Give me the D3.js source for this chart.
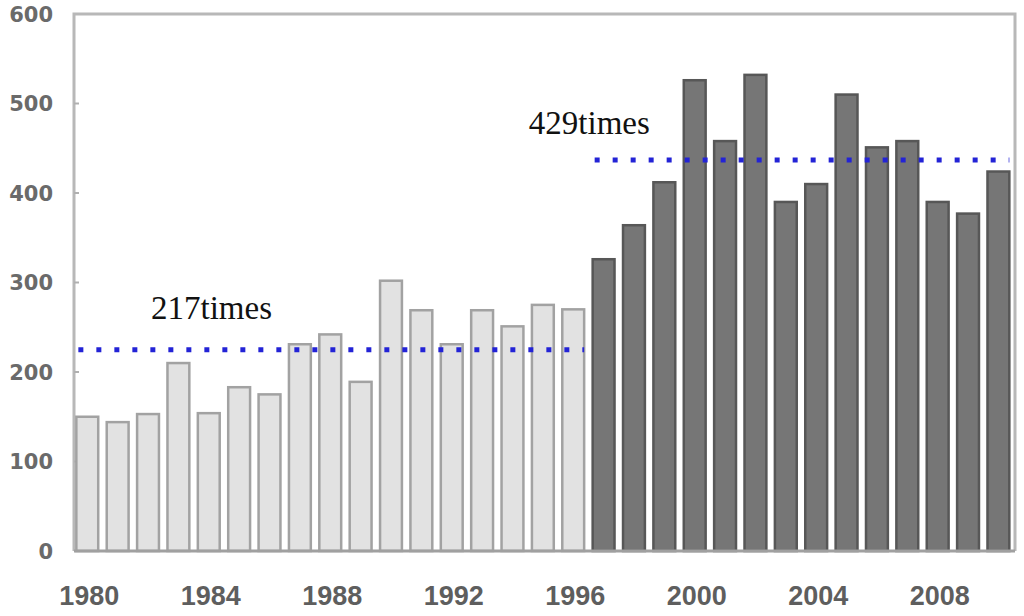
<!DOCTYPE html>
<html>
<head>
<meta charset="utf-8">
<script src="https://cdn.jsdelivr.net/npm/d3@7"></script>
<style>
html,body{margin:0;padding:0;background:#fff;}
svg{display:block;}
</style>
</head>
<body>
<svg id="chart" width="1024" height="616"></svg>
<script>
// ---- data ----
const years = d3.range(1980, 2011).map(String);
const periodA = years.slice(0, 17);   // 1980-1996
const periodB = years.slice(17);      // 1997-2010
const valuesA = [150,144,153,210,154,183,175,231,242,189,302,269,231,269,251,275,270];
const valuesB = [326,364,412,526,458,532,390,410,510,451,458,390,377,424];
const avgLines = [
  {label: "217times", value: 225, from: "1980", to: "1996"},
  {label: "429times", value: 437, from: "1997", to: "2010"}
];
const yTicks = [0,100,200,300,400,500,600];
const xTickLabels = ["1980","1984","1988","1992","1996","2000","2004","2008"];

// ---- layout ----
const svg = d3.select("#chart");
const frame = {left: 74, right: 1015, top: 14, bottom: 551};

const x = d3.scaleBand().domain(years).range([72.1, 1013.6])
  .paddingInner(0.28).paddingOuter(0.14);
const y = d3.scaleLinear().domain([0, 600]).range([frame.bottom, frame.top]);

// frame
svg.append("path")
  .attr("d", `M${frame.left},${frame.bottom}V${frame.top}H${frame.right}V${frame.bottom}`)
  .attr("fill", "none").attr("stroke", "#b8b8b8").attr("stroke-width", 3);

// inner ticks on y axis
svg.append("g").selectAll("line").data(yTicks.filter(d => d > 0 && d < 600)).join("line")
  .attr("x1", frame.left).attr("x2", frame.left + 5)
  .attr("y1", d => y(d)).attr("y2", d => y(d))
  .attr("stroke", "#b0b0b0").attr("stroke-width", 2);

// y labels
svg.append("g").selectAll("text").data(yTicks).join("text")
  .attr("x", 53).attr("y", d => y(d)).attr("dy", "0.36em")
  .attr("text-anchor", "end")
  .attr("font-family", "DejaVu Sans").attr("font-weight", "bold")
  .attr("font-size", 21).attr("fill", "#6a6a6a")
  .text(d => d);

// bars
const dataA = periodA.map((yr, i) => ({year: yr, value: valuesA[i]}));
const dataB = periodB.map((yr, i) => ({year: yr, value: valuesB[i]}));

svg.append("g").selectAll("rect").data(dataA).join("rect")
  .attr("x", d => x(d.year)).attr("width", x.bandwidth())
  .attr("y", d => y(d.value)).attr("height", d => y(0) - y(d.value))
  .attr("fill", "#e2e2e2").attr("stroke", "#a2a2a2").attr("stroke-width", 2.5);

svg.append("g").selectAll("rect").data(dataB).join("rect")
  .attr("x", d => x(d.year)).attr("width", x.bandwidth())
  .attr("y", d => y(d.value)).attr("height", d => y(0) - y(d.value))
  .attr("fill", "#767676").attr("stroke", "#575757").attr("stroke-width", 2.5);

// baseline
svg.append("line")
  .attr("x1", frame.left).attr("x2", frame.right)
  .attr("y1", y(0)).attr("y2", y(0))
  .attr("stroke", "#a0a0a0").attr("stroke-width", 3);

// x labels
svg.append("g").selectAll("text").data(xTickLabels).join("text")
  .attr("x", d => x(d) + x.bandwidth() / 2 + 2).attr("y", 605)
  .attr("text-anchor", "middle")
  .attr("font-family", "Liberation Sans").attr("font-weight", "bold")
  .attr("font-size", 27).attr("fill", "#5e5e5e")
  .text(d => d);

// average dotted lines
svg.append("g").selectAll("line").data(avgLines).join("line")
  .attr("x1", d => x(d.from) + 2).attr("x2", d => x(d.to) + x.bandwidth())
  .attr("y1", d => y(d.value)).attr("y2", d => y(d.value))
  .attr("stroke", "#2323d6").attr("stroke-width", 5)
  .attr("stroke-dasharray", "5,13");

// labels
const labelOffsets = [{dx: 3, dy: -31}, {dx: -14, dy: -26}];
svg.append("g").selectAll("text").data(avgLines).join("text")
  .attr("x", (d, i) => x(i === 0 ? "1982" : "1995") + x.bandwidth() / 2 + labelOffsets[i].dx)
  .attr("y", (d, i) => y(d.value) + labelOffsets[i].dy)
  .attr("font-family", "Liberation Serif")
  .attr("font-size", 33).attr("fill", "#111")
  .text(d => d.label);
</script>
</body>
</html>
